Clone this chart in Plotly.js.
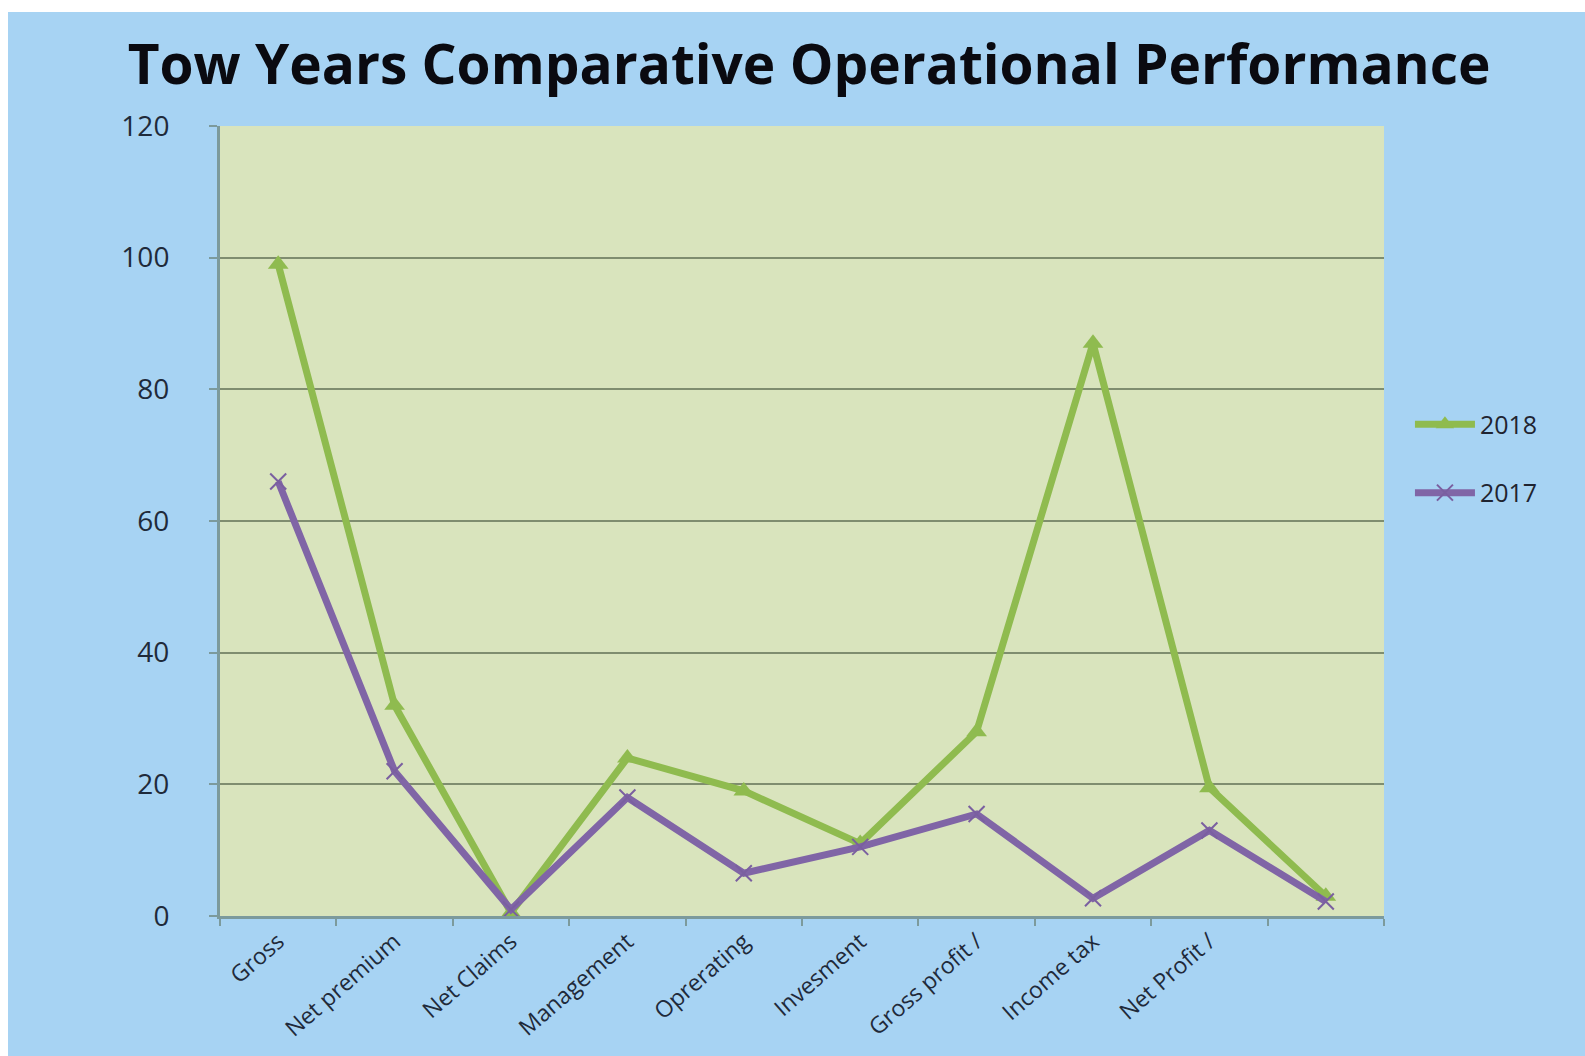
<!DOCTYPE html>
<html>
<head>
<meta charset="utf-8">
<script src="https://cdn.plot.ly/plotly-3.0.1.min.js"></script>
<style>
  html, body { margin: 0; padding: 0; background: #ffffff; width: 1585px; height: 1056px; overflow: hidden; }
  #chart { position: absolute; left: 8px; top: 12px; width: 1577px; height: 1044px; }
</style>
</head>
<body>
<div id="chart"></div>
<script>
// Data
const categories = ["Gross", "Net premium", "Net Claims", "Management", "Oprerating", "Invesment", "Gross profit /", "Income tax", "Net Profit /", ""];
const values2018 = [99, 32, 0.5, 24, 19, 11, 28, 87, 19.5, 3];
const values2017 = [66, 22, 1, 18, 6.5, 10.5, 15.5, 2.7, 13, 2.2];
const yTicks = [0, 20, 40, 60, 80, 100, 120];

const idx = categories.map((_, i) => i);

const traces = [
  {
    x: idx, y: values2018, name: "2018", type: "scatter", mode: "lines+markers",
    legendgroup: "a",
    line: { color: "#8fbb4f", width: 7 },
    marker: { symbol: "triangle-up", size: 18, color: "#8fbb4f" }
  },
  {
    x: idx, y: values2017, name: "2017", type: "scatter", mode: "lines+markers",
    legendgroup: "b",
    line: { color: "#8065a6", width: 7 },
    marker: { symbol: "x-thin", size: 16, color: "#8065a6", line: { color: "#7a5fa0", width: 2 } }
  }
];

const layout = {
  width: 1577, height: 1044,
  paper_bgcolor: "#a7d3f3",
  plot_bgcolor: "#d9e4bd",
  margin: { l: 212, r: 201, t: 114, b: 140 },
  font: { family: "Open Sans, Noto Sans, sans-serif", color: "#1f2430" },
  title: {
    text: "<b>Tow Years Comparative Operational Performance</b>",
    font: { family: "Open Sans, sans-serif", size: 55, color: "#0a0a10" },
    x: 0.508, xanchor: "center", xref: "container",
    y: 0.949, yanchor: "middle", yref: "container"
  },
  xaxis: {
    range: [-0.5, 9.5],
    tickmode: "array", tickvals: idx, ticktext: categories,
    tickangle: -41,
    ticks: "",
    tickfont: { size: 23, color: "#1f2a3a" },
    showgrid: false, zeroline: false,
    showline: true, linecolor: "#7c9a9c", linewidth: 3,
    minor: { tick0: -0.5, dtick: 1, ticks: "outside", ticklen: 7, tickcolor: "#7c9a9c", tickwidth: 2, showgrid: false },
    fixedrange: true
  },
  yaxis: {
    range: [0, 120],
    tickmode: "array", tickvals: yTicks,
    ticks: "outside", ticklen: 8, tickcolor: "#7c9a9c", tickwidth: 2,
    ticklabelstandoff: 34,
    tickfont: { size: 28, color: "#1f2a3a" },
    showgrid: true, gridcolor: "#7f8d6f", gridwidth: 2,
    zeroline: false,
    showline: true, linecolor: "#7c9a9c", linewidth: 3,
    fixedrange: true
  },
  showlegend: true,
  legend: {
    xref: "container", yref: "container",
    x: 0.889, y: 0.627, xanchor: "left", yanchor: "top",
    bgcolor: "rgba(0,0,0,0)",
    font: { size: 25, color: "#1f2430" },
    traceorder: "grouped", tracegroupgap: 33,
    itemwidth: 60
  }
};

Plotly.newPlot("chart", traces, layout, { displayModeBar: false, staticPlot: true });
</script>
</body>
</html>
